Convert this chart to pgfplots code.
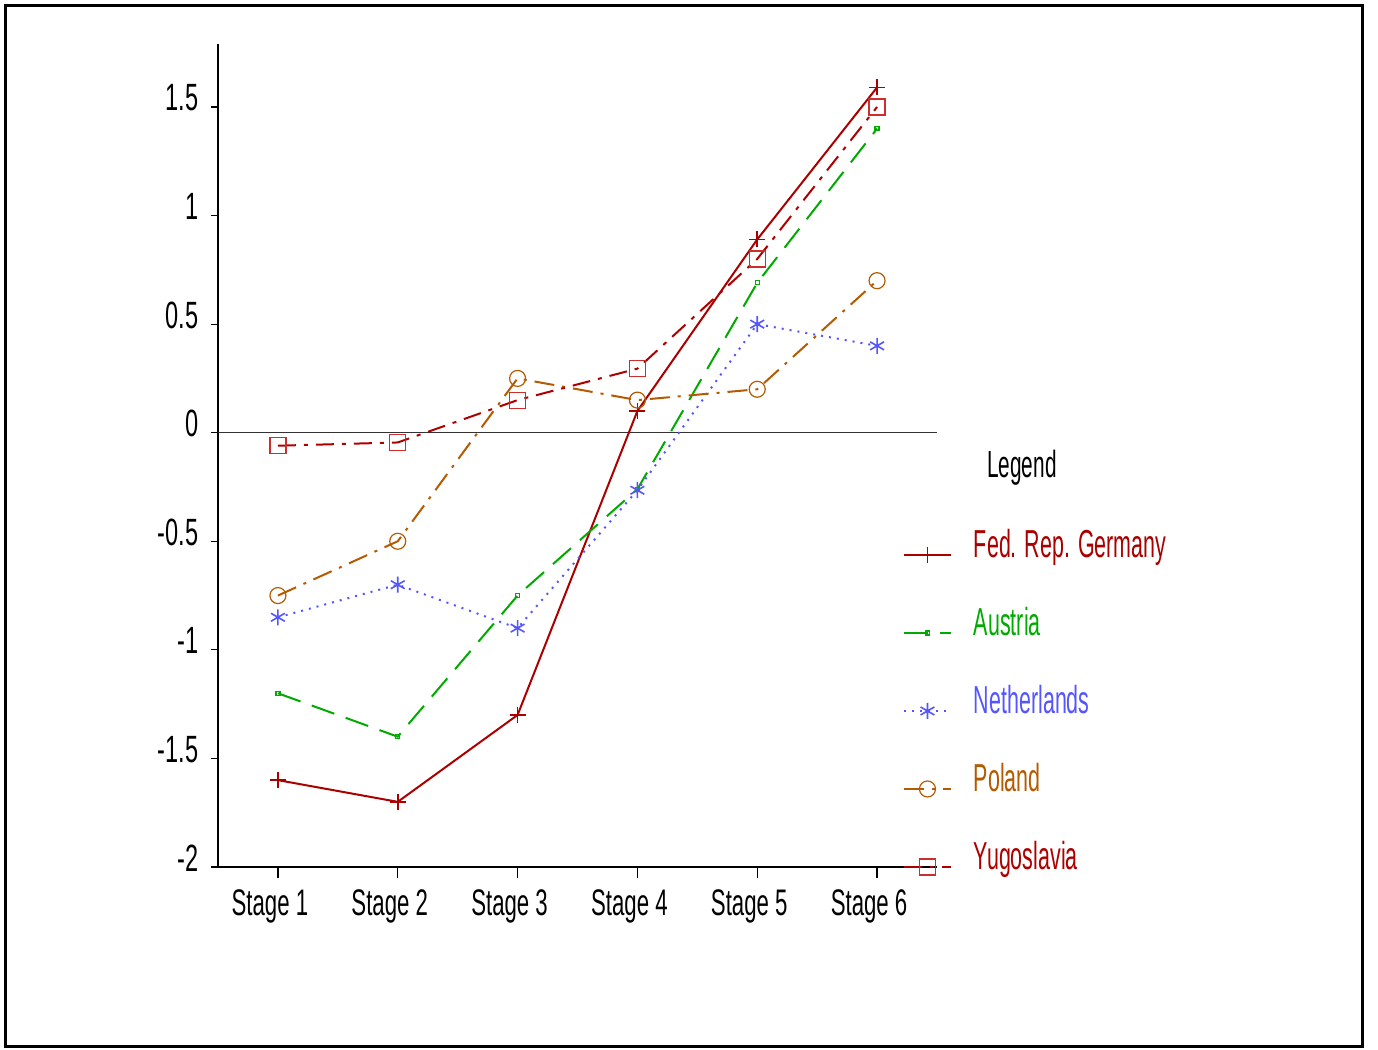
\documentclass[border=0pt]{standalone}
\usepackage{pgfplots}
\pgfplotsset{compat=1.18}
\usepackage{fontspec}
\setmainfont{Liberation Sans}[FakeStretch=0.55]
\newfontfamily\xfont{Liberation Sans}[FakeStretch=0.6]
\newfontfamily\yfont{Liberation Sans}[FakeStretch=0.62]
\definecolor{germ}{RGB}{170,0,0}
\definecolor{aust}{RGB}{0,170,0}
\definecolor{neth}{RGB}{85,85,255}
\definecolor{pol}{RGB}{180,90,0}
\definecolor{yugo}{RGB}{175,0,0}
\definecolor{yugom}{RGB}{205,45,45}
\begin{document}
\begin{tikzpicture}[x=1pt,y=1pt]
\useasboundingbox (0,0) rectangle (689,525);
\draw[line width=1.5pt] (2.75,1.75) rectangle (681.25,522.25);
\begin{axis}[
  at={(109pt,91.5pt)}, anchor=south west,
  scale only axis, width=359.5pt, height=411.5pt,
  xmin=0.5, xmax=6.5, ymin=-2, ymax=1.79,
  clip=false,
  axis x line=bottom, axis y line=left,
  axis line style={-, line width=0.6pt, black},
  x axis line style={shorten <=-3pt},
  xtick={1,2,3,4,5,6},
  xticklabels={Stage 1,Stage 2,Stage 3,Stage 4,Stage 5,Stage 6},
  ytick={-2,-1.5,-1,-0.5,0,0.5,1,1.5},
  yticklabels={-2,-1.5,-1,-0.5,0,0.5,1,1.5},
  tick align=outside,
  minor tick num=0,
  xtick style={black, line width=0.6pt, /pgfplots/major tick length=5.5pt},
  ytick style={black, line width=0.6pt, /pgfplots/major tick length=3.5pt},
  xticklabel style={font=\xfont\fontsize{18.5}{18.5}\selectfont, xshift=-4pt, yshift=-3.5pt},
  yticklabel style={font=\yfont\fontsize{19}{19}\selectfont, yshift=4.5pt, xshift=-2pt},
  legend cell align=left,
  legend style={draw=none, fill=none, inner sep=0pt, outer sep=0pt,
    at={(0.9527,0.4095)}, anchor=north west,
    font=\fontsize{19.5}{19.5}\selectfont,
    row sep=21pt, column sep=11pt,
    nodes={inner sep=0pt, text height=14pt, text depth=4pt}},
  legend image code/.code={\draw[mark repeat=2,mark phase=2,yshift=-3.5pt,#1] plot coordinates {(0pt,0pt) (11.75pt,0pt) (23.5pt,0pt)};},
]
\draw[line width=0.6pt, black!80] (axis cs:0.5,0) -- (axis cs:6.5,0);
\addplot[germ, line width=1pt, mark=+, mark size=4pt, mark options={solid, line width=0.8pt, germ}]
  coordinates {(1,-1.6)(2,-1.7)(3,-1.3)(4,0.1)(5,0.89)(6,1.59)};
\addlegendentry{\textcolor{germ}{Fed. Rep. Germany}}
\addplot[aust, line width=1pt, dash pattern=on 12pt off 6pt, mark=square, mark size=1pt, mark options={solid, line width=0.6pt}]
  coordinates {(1,-1.2)(2,-1.4)(3,-0.75)(4,-0.26)(5,0.69)(6,1.40)};
\addlegendentry{\textcolor{aust}{Austria}}
\addplot[neth, line width=1pt, dash pattern=on 1pt off 3pt, mark=asterisk, mark size=4pt, mark options={solid, line width=0.8pt}]
  coordinates {(1,-0.85)(2,-0.70)(3,-0.90)(4,-0.265)(5,0.50)(6,0.40)};
\addlegendentry{\textcolor{neth}{Netherlands}}
\addplot[pol, line width=1pt, dash pattern=on 10pt off 4pt on 1.5pt off 4pt, mark=o, mark size=4pt, mark options={solid, line width=0.6pt}]
  coordinates {(1,-0.75)(2,-0.50)(3,0.25)(4,0.15)(5,0.20)(6,0.70)};
\addlegendentry{\textcolor{pol}{Poland}}
\addplot[yugo, line width=1pt, dash pattern=on 9pt off 4pt on 2pt off 4pt, mark=square, mark size=4pt, mark options={solid, line width=0.6pt, yugom}]
  coordinates {(1,-0.06)(2,-0.045)(3,0.15)(4,0.295)(5,0.80)(6,1.50)};
\addlegendentry{\textcolor{yugo}{Yugoslavia}}
\end{axis}
\node[font=\fontsize{18.9}{18.9}\selectfont, inner sep=0pt] at (511,291) {Legend};
\end{tikzpicture}
\end{document}
